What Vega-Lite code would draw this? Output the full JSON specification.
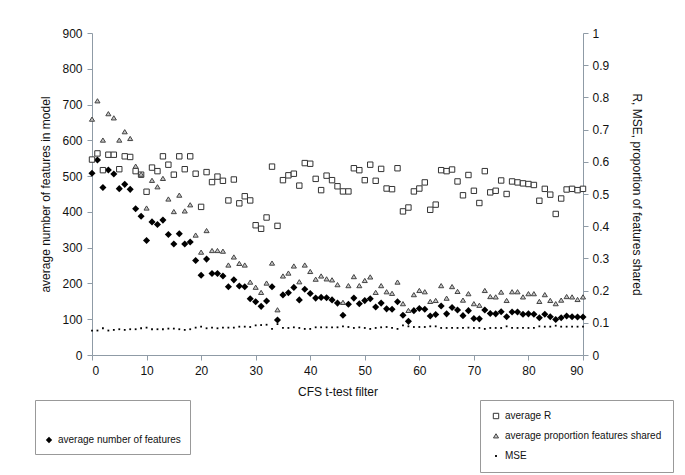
{
  "$schema": "https://vega.github.io/schema/vega-lite/v6.json",
  "width": 491,
  "height": 322,
  "autosize": {"type": "none"},
  "padding": {"left": 92, "top": 33, "right": 102, "bottom": 120},
  "background": "white",
  "config": {
    "view": {"stroke": null},
    "font": "Liberation Sans",
    "axis": {
      "grid": false,
      "domainColor": "#8f9ba6",
      "tickColor": "#8f9ba6",
      "labelColor": "#111",
      "titleColor": "#111",
      "labelFont": "Liberation Sans",
      "titleFont": "Liberation Sans",
      "labelFontSize": 12,
      "titleFontSize": 12,
      "titleFontWeight": "normal",
      "tickSize": 5
    },
    "legend": {
      "orient": "none",
      "labelFont": "Liberation Sans",
      "labelFontSize": 10,
      "labelColor": "#111",
      "titleFont": "Liberation Sans",
      "titleFontSize": 10,
      "titleFontWeight": "normal",
      "strokeColor": "#999",
      "fillColor": "white",
      "symbolStrokeWidth": 1
    }
  },
  "data": {
    "values": [
      {"x": 0, "average number of features": 508, "average R": 0.607, "average proportion features shared": 0.732, "MSE": 0.076},
      {"x": 1, "average number of features": 545, "average R": 0.626, "average proportion features shared": 0.789, "MSE": 0.076},
      {"x": 2, "average number of features": 468, "average R": 0.574, "average proportion features shared": 0.667, "MSE": 0.083},
      {"x": 3, "average number of features": 517, "average R": 0.622, "average proportion features shared": 0.749, "MSE": 0.076},
      {"x": 4, "average number of features": 506, "average R": 0.622, "average proportion features shared": 0.736, "MSE": 0.078},
      {"x": 5, "average number of features": 465, "average R": 0.577, "average proportion features shared": 0.667, "MSE": 0.080},
      {"x": 6, "average number of features": 477, "average R": 0.617, "average proportion features shared": 0.693, "MSE": 0.078},
      {"x": 7, "average number of features": 463, "average R": 0.615, "average proportion features shared": 0.672, "MSE": 0.080},
      {"x": 8, "average number of features": 409, "average R": 0.571, "average proportion features shared": 0.586, "MSE": 0.080},
      {"x": 9, "average number of features": 388, "average R": 0.560, "average proportion features shared": 0.561, "MSE": 0.083},
      {"x": 10, "average number of features": 320, "average R": 0.507, "average proportion features shared": 0.456, "MSE": 0.085},
      {"x": 11, "average number of features": 372, "average R": 0.582, "average proportion features shared": 0.542, "MSE": 0.080},
      {"x": 12, "average number of features": 365, "average R": 0.571, "average proportion features shared": 0.522, "MSE": 0.080},
      {"x": 13, "average number of features": 377, "average R": 0.617, "average proportion features shared": 0.548, "MSE": 0.080},
      {"x": 14, "average number of features": 337, "average R": 0.591, "average proportion features shared": 0.484, "MSE": 0.082},
      {"x": 15, "average number of features": 310, "average R": 0.560, "average proportion features shared": 0.445, "MSE": 0.082},
      {"x": 16, "average number of features": 339, "average R": 0.617, "average proportion features shared": 0.496, "MSE": 0.080},
      {"x": 17, "average number of features": 310, "average R": 0.577, "average proportion features shared": 0.447, "MSE": 0.078},
      {"x": 18, "average number of features": 316, "average R": 0.617, "average proportion features shared": 0.466, "MSE": 0.080},
      {"x": 19, "average number of features": 264, "average R": 0.563, "average proportion features shared": 0.372, "MSE": 0.085},
      {"x": 20, "average number of features": 223, "average R": 0.460, "average proportion features shared": 0.319, "MSE": 0.088},
      {"x": 21, "average number of features": 268, "average R": 0.568, "average proportion features shared": 0.386, "MSE": 0.083},
      {"x": 22, "average number of features": 228, "average R": 0.537, "average proportion features shared": 0.324, "MSE": 0.085},
      {"x": 23, "average number of features": 228, "average R": 0.554, "average proportion features shared": 0.324, "MSE": 0.083},
      {"x": 24, "average number of features": 221, "average R": 0.541, "average proportion features shared": 0.322, "MSE": 0.085},
      {"x": 25, "average number of features": 191, "average R": 0.480, "average proportion features shared": 0.279, "MSE": 0.085},
      {"x": 26, "average number of features": 210, "average R": 0.545, "average proportion features shared": 0.304, "MSE": 0.085},
      {"x": 27, "average number of features": 193, "average R": 0.471, "average proportion features shared": 0.284, "MSE": 0.088},
      {"x": 28, "average number of features": 191, "average R": 0.493, "average proportion features shared": 0.279, "MSE": 0.088},
      {"x": 29, "average number of features": 157, "average R": 0.480, "average proportion features shared": 0.226, "MSE": 0.087},
      {"x": 30, "average number of features": 149, "average R": 0.403, "average proportion features shared": 0.210, "MSE": 0.092},
      {"x": 31, "average number of features": 136, "average R": 0.392, "average proportion features shared": 0.194, "MSE": 0.093},
      {"x": 32, "average number of features": 151, "average R": 0.427, "average proportion features shared": 0.223, "MSE": 0.094},
      {"x": 33, "average number of features": 191, "average R": 0.585, "average proportion features shared": 0.285, "MSE": 0.081},
      {"x": 34, "average number of features": 98, "average R": 0.401, "average proportion features shared": 0.140, "MSE": 0.096},
      {"x": 35, "average number of features": 168, "average R": 0.543, "average proportion features shared": 0.245, "MSE": 0.084},
      {"x": 36, "average number of features": 174, "average R": 0.558, "average proportion features shared": 0.254, "MSE": 0.084},
      {"x": 37, "average number of features": 189, "average R": 0.563, "average proportion features shared": 0.276, "MSE": 0.086},
      {"x": 38, "average number of features": 154, "average R": 0.526, "average proportion features shared": 0.227, "MSE": 0.084},
      {"x": 39, "average number of features": 184, "average R": 0.596, "average proportion features shared": 0.279, "MSE": 0.081},
      {"x": 40, "average number of features": 172, "average R": 0.594, "average proportion features shared": 0.259, "MSE": 0.081},
      {"x": 41, "average number of features": 159, "average R": 0.547, "average proportion features shared": 0.235, "MSE": 0.086},
      {"x": 42, "average number of features": 161, "average R": 0.512, "average proportion features shared": 0.245, "MSE": 0.086},
      {"x": 43, "average number of features": 160, "average R": 0.557, "average proportion features shared": 0.236, "MSE": 0.086},
      {"x": 44, "average number of features": 154, "average R": 0.543, "average proportion features shared": 0.233, "MSE": 0.086},
      {"x": 45, "average number of features": 145, "average R": 0.524, "average proportion features shared": 0.218, "MSE": 0.086},
      {"x": 46, "average number of features": 111, "average R": 0.508, "average proportion features shared": 0.163, "MSE": 0.089},
      {"x": 47, "average number of features": 142, "average R": 0.508, "average proportion features shared": 0.215, "MSE": 0.087},
      {"x": 48, "average number of features": 159, "average R": 0.580, "average proportion features shared": 0.243, "MSE": 0.084},
      {"x": 49, "average number of features": 143, "average R": 0.574, "average proportion features shared": 0.215, "MSE": 0.086},
      {"x": 50, "average number of features": 152, "average R": 0.543, "average proportion features shared": 0.231, "MSE": 0.084},
      {"x": 51, "average number of features": 157, "average R": 0.591, "average proportion features shared": 0.242, "MSE": 0.081},
      {"x": 52, "average number of features": 134, "average R": 0.541, "average proportion features shared": 0.194, "MSE": 0.084},
      {"x": 53, "average number of features": 145, "average R": 0.578, "average proportion features shared": 0.215, "MSE": 0.086},
      {"x": 54, "average number of features": 129, "average R": 0.517, "average proportion features shared": 0.196, "MSE": 0.087},
      {"x": 55, "average number of features": 128, "average R": 0.515, "average proportion features shared": 0.191, "MSE": 0.084},
      {"x": 56, "average number of features": 149, "average R": 0.580, "average proportion features shared": 0.226, "MSE": 0.081},
      {"x": 57, "average number of features": 111, "average R": 0.446, "average proportion features shared": 0.159, "MSE": 0.092},
      {"x": 58, "average number of features": 94, "average R": 0.458, "average proportion features shared": 0.138, "MSE": 0.089},
      {"x": 59, "average number of features": 124, "average R": 0.508, "average proportion features shared": 0.187, "MSE": 0.087},
      {"x": 60, "average number of features": 130, "average R": 0.517, "average proportion features shared": 0.200, "MSE": 0.087},
      {"x": 61, "average number of features": 128, "average R": 0.536, "average proportion features shared": 0.196, "MSE": 0.087},
      {"x": 62, "average number of features": 109, "average R": 0.451, "average proportion features shared": 0.166, "MSE": 0.089},
      {"x": 63, "average number of features": 113, "average R": 0.467, "average proportion features shared": 0.169, "MSE": 0.089},
      {"x": 64, "average number of features": 137, "average R": 0.574, "average proportion features shared": 0.215, "MSE": 0.084},
      {"x": 65, "average number of features": 115, "average R": 0.571, "average proportion features shared": 0.176, "MSE": 0.084},
      {"x": 66, "average number of features": 133, "average R": 0.576, "average proportion features shared": 0.212, "MSE": 0.084},
      {"x": 67, "average number of features": 126, "average R": 0.539, "average proportion features shared": 0.197, "MSE": 0.084},
      {"x": 68, "average number of features": 110, "average R": 0.496, "average proportion features shared": 0.170, "MSE": 0.084},
      {"x": 69, "average number of features": 124, "average R": 0.559, "average proportion features shared": 0.190, "MSE": 0.085},
      {"x": 70, "average number of features": 102, "average R": 0.510, "average proportion features shared": 0.159, "MSE": 0.084},
      {"x": 71, "average number of features": 101, "average R": 0.472, "average proportion features shared": 0.154, "MSE": 0.084},
      {"x": 72, "average number of features": 126, "average R": 0.571, "average proportion features shared": 0.200, "MSE": 0.081},
      {"x": 73, "average number of features": 116, "average R": 0.505, "average proportion features shared": 0.181, "MSE": 0.084},
      {"x": 74, "average number of features": 115, "average R": 0.510, "average proportion features shared": 0.180, "MSE": 0.084},
      {"x": 75, "average number of features": 121, "average R": 0.542, "average proportion features shared": 0.195, "MSE": 0.084},
      {"x": 76, "average number of features": 107, "average R": 0.500, "average proportion features shared": 0.169, "MSE": 0.089},
      {"x": 77, "average number of features": 120, "average R": 0.539, "average proportion features shared": 0.196, "MSE": 0.084},
      {"x": 78, "average number of features": 120, "average R": 0.536, "average proportion features shared": 0.196, "MSE": 0.084},
      {"x": 79, "average number of features": 114, "average R": 0.533, "average proportion features shared": 0.180, "MSE": 0.084},
      {"x": 80, "average number of features": 115, "average R": 0.531, "average proportion features shared": 0.190, "MSE": 0.084},
      {"x": 81, "average number of features": 114, "average R": 0.528, "average proportion features shared": 0.190, "MSE": 0.084},
      {"x": 82, "average number of features": 104, "average R": 0.479, "average proportion features shared": 0.166, "MSE": 0.089},
      {"x": 83, "average number of features": 114, "average R": 0.516, "average proportion features shared": 0.187, "MSE": 0.088},
      {"x": 84, "average number of features": 107, "average R": 0.498, "average proportion features shared": 0.169, "MSE": 0.088},
      {"x": 85, "average number of features": 99, "average R": 0.438, "average proportion features shared": 0.159, "MSE": 0.091},
      {"x": 86, "average number of features": 104, "average R": 0.486, "average proportion features shared": 0.170, "MSE": 0.088},
      {"x": 87, "average number of features": 109, "average R": 0.514, "average proportion features shared": 0.181, "MSE": 0.088},
      {"x": 88, "average number of features": 107, "average R": 0.516, "average proportion features shared": 0.180, "MSE": 0.088},
      {"x": 89, "average number of features": 106, "average R": 0.512, "average proportion features shared": 0.172, "MSE": 0.088},
      {"x": 90, "average number of features": 106, "average R": 0.516, "average proportion features shared": 0.180, "MSE": 0.088}
    ]
  },
  "encoding": {
    "x": {
      "field": "x",
      "type": "quantitative",
      "scale": {"domain": [0, 90], "nice": false},
      "axis": {
        "values": [0, 10, 20, 30, 40, 50, 60, 70, 80, 90],
        "title": "CFS t-test filter",
        "labelPadding": 5,
        "titlePadding": 10
      }
    }
  },
  "layer": [
    {
      "transform": [{"fold": ["average number of features"], "as": ["series", "value"]}],
      "mark": {"type": "point", "filled": true, "size": 50, "opacity": 1},
      "encoding": {
        "y": {
          "field": "value",
          "type": "quantitative",
          "scale": {"domain": [0, 900], "nice": false},
          "axis": {
            "orient": "left",
            "values": [0, 100, 200, 300, 400, 500, 600, 700, 800, 900],
            "title": "average number of features in model",
            "labelPadding": 5,
            "titlePadding": 9
          }
        },
        "shape": {
          "field": "series",
          "type": "nominal",
          "scale": {"domain": ["average number of features"], "range": ["diamond"]},
          "legend": {
            "title": " ",
            "titlePadding": 16,
            "legendX": -57,
            "legendY": 367,
            "padding": 9,
            "symbolSize": 40,
            "labelOffset": 4
          }
        },
        "color": {
          "field": "series",
          "type": "nominal",
          "scale": {"domain": ["average number of features"], "range": ["#000000"]},
          "legend": {
            "title": " ",
            "titlePadding": 16,
            "legendX": -57,
            "legendY": 367,
            "padding": 9,
            "symbolSize": 40,
            "labelOffset": 4
          }
        }
      }
    },
    {
      "transform": [{"fold": ["average R", "average proportion features shared", "MSE"], "as": ["series", "value"]}],
      "mark": {"type": "point", "filled": false, "size": 36, "strokeWidth": 1, "opacity": 1},
      "encoding": {
        "y": {
          "field": "value",
          "type": "quantitative",
          "scale": {"domain": [0, 1], "nice": false},
          "axis": {
            "orient": "right",
            "values": [0, 0.1, 0.2, 0.3, 0.4, 0.5, 0.6, 0.7, 0.8, 0.9, 1],
            "format": ".1~f",
            "title": "R, MSE, proportion of features shared",
            "labelPadding": 4,
            "titlePadding": 21
          }
        },
        "shape": {
          "field": "series",
          "type": "nominal",
          "scale": {
            "domain": ["average R", "average proportion features shared", "MSE"],
            "range": ["M-0.9,-0.9H0.9V0.9H-0.9Z", "M0,-0.75L0.85,0.65L-0.85,0.65Z", "M-0.3,-0.3H0.3V0.3H-0.3Z"]
          },
          "legend": {
            "title": null,
            "legendX": 388,
            "legendY": 367,
            "padding": 11,
            "rowPadding": 10,
            "symbolSize": 36,
            "labelOffset": 4
          }
        },
        "fill": {
          "field": "series",
          "type": "nominal",
          "scale": {
            "domain": ["average R", "average proportion features shared", "MSE"],
            "range": ["#ffffff", "#c4c4c4", "#000000"]
          },
          "legend": {
            "title": null,
            "legendX": 388,
            "legendY": 367,
            "padding": 11,
            "rowPadding": 10,
            "symbolSize": 36,
            "labelOffset": 4
          }
        },
        "stroke": {
          "field": "series",
          "type": "nominal",
          "scale": {
            "domain": ["average R", "average proportion features shared", "MSE"],
            "range": ["#333333", "#444444", "transparent"]
          },
          "legend": {
            "title": null,
            "legendX": 388,
            "legendY": 367,
            "padding": 11,
            "rowPadding": 10,
            "symbolSize": 36,
            "labelOffset": 4
          }
        }
      }
    }
  ],
  "resolve": {
    "scale": {"y": "independent", "shape": "independent", "color": "independent", "fill": "independent", "stroke": "independent"},
    "legend": {"shape": "independent", "color": "independent", "fill": "independent", "stroke": "independent"}
  }
}
